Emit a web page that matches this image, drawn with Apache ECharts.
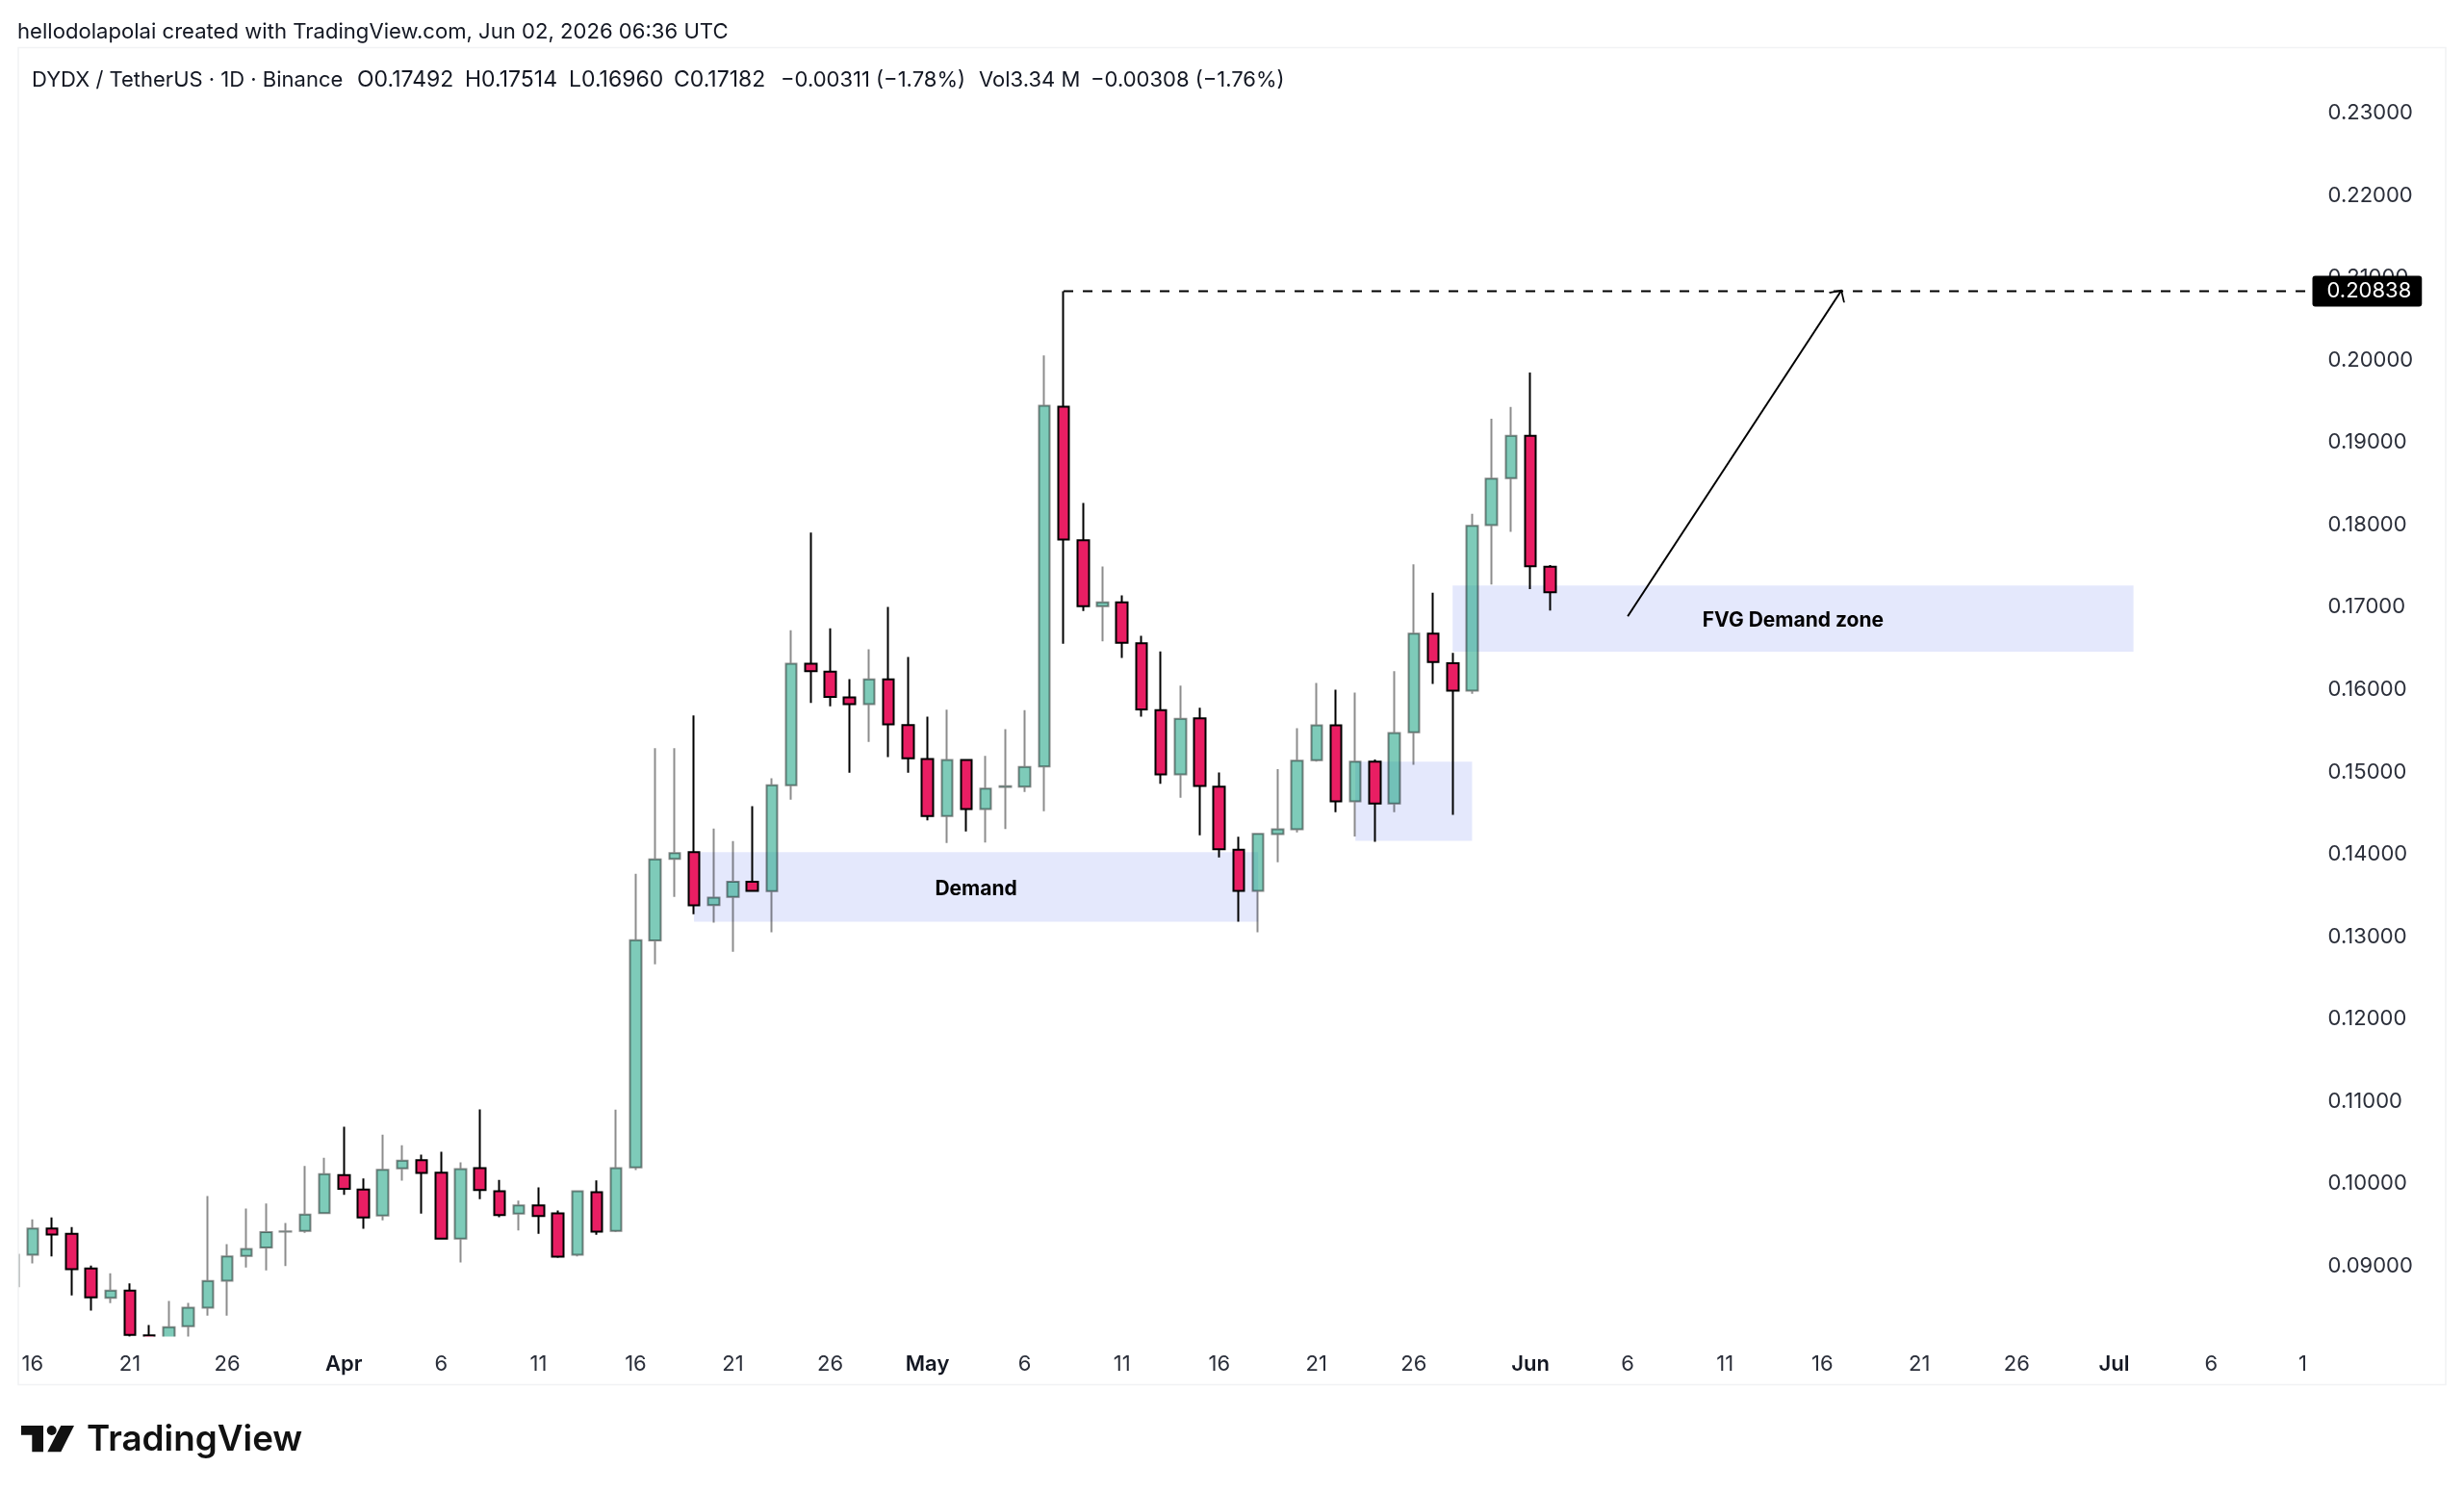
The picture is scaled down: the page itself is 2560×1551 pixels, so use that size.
<!DOCTYPE html>
<html>
<head>
<meta charset="utf-8">
<title>DYDX / TetherUS</title>
<style>
  html, body { margin: 0; padding: 0; background: #fff; }
  #chart { width: 2560px; height: 1551px; }
</style>
<script src="https://cdn.jsdelivr.net/npm/echarts@6/dist/echarts.min.js"></script>
</head>
<body>
<div id="chart"></div>
<script>
// daily bars, Mar 15 to Jun 2
const opens = [
  0.08756, 0.09138, 0.09457, 0.09391, 0.08970, 0.08616, 0.08701, 0.08160, 0.08086, 0.08269,
  0.08495, 0.08822, 0.09122, 0.09224, 0.09418, 0.09426, 0.09644, 0.10104, 0.09929, 0.09613,
  0.10186, 0.10287, 0.10135, 0.09333, 0.10190, 0.09909, 0.09637, 0.09738, 0.09640, 0.09138,
  0.09898, 0.09426, 0.10198, 0.12953, 0.13946, 0.14028, 0.13385, 0.13482, 0.13666, 0.13552,
  0.14838, 0.16315, 0.16217, 0.15906, 0.15824, 0.16124, 0.15571, 0.15158, 0.14464, 0.15146,
  0.14550, 0.14819, 0.14823, 0.15068, 0.19435, 0.17815, 0.17012, 0.17059, 0.16564, 0.15750,
  0.14971, 0.15652, 0.14823, 0.14055, 0.13556, 0.14246, 0.14304, 0.15142, 0.15566, 0.14643,
  0.15126, 0.14616, 0.15481, 0.16681, 0.16322, 0.15987, 0.17998, 0.18567, 0.19081, 0.17492
];
const closes = [
  0.09138, 0.09457, 0.09383, 0.08962, 0.08620, 0.08701, 0.08164, 0.08086, 0.08257, 0.08495,
  0.08818, 0.09118, 0.09208, 0.09411, 0.09422, 0.09625, 0.10116, 0.09937, 0.09590, 0.10170,
  0.10279, 0.10131, 0.09333, 0.10178, 0.09925, 0.09621, 0.09738, 0.09609, 0.09114, 0.09909,
  0.09418, 0.10190, 0.12957, 0.13938, 0.14016, 0.13381, 0.13475, 0.13666, 0.13557, 0.14838,
  0.16315, 0.16225, 0.15913, 0.15824, 0.16124, 0.15578, 0.15165, 0.14464, 0.15146, 0.14550,
  0.14799, 0.14826, 0.15060, 0.19447, 0.17823, 0.17012, 0.17059, 0.16568, 0.15761, 0.14971,
  0.15645, 0.14830, 0.14063, 0.13556, 0.14249, 0.14304, 0.15138, 0.15566, 0.14643, 0.15126,
  0.14616, 0.15473, 0.16681, 0.16334, 0.15987, 0.17990, 0.18563, 0.19081, 0.17499, 0.17182
];
const lows = [
  0.08700, 0.09033, 0.09118, 0.08643, 0.08460, 0.08550, 0.08140, 0.08047, 0.08047, 0.08120,
  0.08398, 0.08398, 0.08982, 0.08947, 0.09001, 0.09403, 0.09644, 0.09866, 0.09453, 0.09555,
  0.10038, 0.09637, 0.09329, 0.09044, 0.09812, 0.09594, 0.09434, 0.09391, 0.09099, 0.09118,
  0.09379, 0.09411, 0.10167, 0.12664, 0.13482, 0.13272, 0.13171, 0.12816, 0.13549, 0.13054,
  0.14663, 0.15839, 0.15797, 0.14990, 0.15364, 0.15181, 0.14990, 0.14413, 0.14137, 0.14277,
  0.14145, 0.14308, 0.14756, 0.14523, 0.16556, 0.16954, 0.16587, 0.16385, 0.15672, 0.14858,
  0.14686, 0.14230, 0.13961, 0.13182, 0.13053, 0.13903, 0.14265, 0.15126, 0.14511, 0.14218,
  0.14152, 0.14511, 0.15087, 0.16069, 0.14479, 0.15950, 0.17277, 0.17916, 0.17222, 0.16960
];
const highs = [
  0.09200, 0.09566, 0.09590, 0.09473, 0.09005, 0.08912, 0.08791, 0.08285, 0.08577, 0.08553,
  0.09851, 0.09266, 0.09699, 0.09761, 0.09524, 0.10217, 0.10314, 0.10692, 0.10065, 0.10595,
  0.10466, 0.10353, 0.10388, 0.10260, 0.10903, 0.10046, 0.09796, 0.09956, 0.09675, 0.09909,
  0.10042, 0.10899, 0.13763, 0.15290, 0.15290, 0.15687, 0.14312, 0.14160, 0.14585, 0.14924,
  0.16720, 0.17908, 0.16743, 0.16128, 0.16490, 0.17004, 0.16397, 0.15672, 0.15758, 0.15150,
  0.15197, 0.15520, 0.15750, 0.20059, 0.20838, 0.18267, 0.17495, 0.17145, 0.16654, 0.16463,
  0.16050, 0.15781, 0.14994, 0.14215, 0.14255, 0.15036, 0.15531, 0.16081, 0.15999, 0.15964,
  0.15153, 0.16225, 0.17522, 0.17177, 0.16447, 0.18134, 0.19291, 0.19432, 0.19852, 0.17514
];

// time scale runs on past the last bar, to Jul 11
const monthRuns = [['Mar', 15, 31], ['Apr', 1, 30], ['May', 1, 31], ['Jun', 1, 30], ['Jul', 1, 11]];
const categories = [];
monthRuns.forEach(function (run) {
  for (let d = run[1]; d <= run[2]; d++) categories.push(run[0] + ' ' + d);
});

const timeLabels = {
  'Mar 16': '16', 'Mar 21': '21', 'Mar 26': '26', 'Apr 1': 'Apr', 'Apr 6': '6', 'Apr 11': '11',
  'Apr 16': '16', 'Apr 21': '21', 'Apr 26': '26', 'May 1': 'May', 'May 6': '6', 'May 11': '11',
  'May 16': '16', 'May 21': '21', 'May 26': '26', 'Jun 1': 'Jun', 'Jun 6': '6', 'Jun 11': '11',
  'Jun 16': '16', 'Jun 21': '21', 'Jun 26': '26', 'Jul 1': 'Jul', 'Jul 6': '6', 'Jul 11': '1'
};
const priceTicks = [0.09, 0.10, 0.11, 0.12, 0.13, 0.14, 0.15, 0.16, 0.17, 0.18, 0.19, 0.20, 0.21, 0.22, 0.23];

// drawings on the chart
const targetLevel = 0.20838;
const targetLine = ['May 8', 'Jul 11'];
const arrowFrom = ['Jun 6', 0.16891];
const arrowTo = ['Jun 17', 0.20853];
const zones = [
  { name: 'Demand', from: 'Apr 19', to: 'May 18', top: 0.14028, bottom: 0.13183 },
  { name: '', from: 'May 23', to: 'May 29', top: 0.15126, bottom: 0.14164 },
  { name: 'FVG Demand zone', from: 'May 28', to: 'Jul 2', top: 0.17265, bottom: 0.16462 }
];

const headerText = 'hellodolapolai created with TradingView.com, Jun 02, 2026 06:36 UTC';
const legendParts = [
  'DYDX / TetherUS · 1D · Binance', 'O0.17492', 'H0.17514', 'L0.16960', 'C0.17182',
  '−0.00311 (−1.78%)', 'Vol3.34 M', '−0.00308 (−1.76%)'
];

const FONT = 'Inter, "Noto Sans", sans-serif';
const INK = '#131722';

const bars = opens.map(function (o, i) {
  return [o, closes[i], lows[i], highs[i]];
});

// legend pieces sit at fixed spots, the OHLC values run a little wider
const legendX = [33, 371, 483, 591, 700, 811, 1017, 1133];
const legendGraphics = legendParts.map(function (text, i) {
  const size = i >= 1 && i <= 4 ? 23 : 22;
  return {
    type: 'text', z: 101, x: legendX[i], y: 83,
    style: { text: text, font: '400 ' + size + 'px ' + FONT, fill: INK, verticalAlign: 'middle' }
  };
});

const chart = echarts.init(document.getElementById('chart'), null, { renderer: 'canvas' });

chart.setOption({
  animation: false,
  backgroundColor: '#ffffff',
  grid: { left: 3.6, top: 50, width: 2405, height: 1338 },
  xAxis: {
    type: 'category',
    data: categories,
    boundaryGap: true,
    axisLine: { show: false },
    axisTick: { show: false },
    splitLine: { show: false },
    axisLabel: {
      margin: 18,
      fontFamily: FONT,
      fontSize: 22,
      color: '#2a2e39',
      interval: function (index, value) {
        return timeLabels[value] !== undefined;
      },
      formatter: function (value) {
        const text = timeLabels[value];
        if (value === 'Jul 11') return '{cut|' + text + '}'; // clipped by the price scale in the original
        return /[a-z]/.test(text) ? '{month|' + text + '}' : text;
      },
      rich: {
        month: { fontFamily: FONT, fontSize: 22, fontWeight: 600, color: INK },
        cut: { fontFamily: FONT, fontSize: 22, color: '#2a2e39', padding: [0, 12, 0, 0] }
      }
    }
  },
  yAxis: {
    type: 'value',
    position: 'right',
    min: 0.0815,
    max: 0.2379,
    axisLine: { show: false },
    axisTick: { show: false },
    splitLine: { show: false },
    axisLabel: {
      margin: 10,
      padding: [2, 0, 0, 0],
      fontFamily: FONT,
      fontSize: 22,
      color: '#2a2e39',
      customValues: priceTicks,
      formatter: function (v) { return v.toFixed(5); }
    }
  },
  series: [
    {
      type: 'candlestick',
      data: bars,
      barWidth: 12,
      itemStyle: {
        // up bars are see-through, the zones show behind them
        color: 'rgba(20,160,128,0.55)',
        color0: '#e91e63',
        borderColor: 'rgba(0,0,0,0.45)',
        borderColor0: '#000000',
        borderColorDoji: 'rgba(0,0,0,0.45)',
        borderWidth: 2
      },
      markArea: {
        silent: true,
        itemStyle: { color: 'rgba(50,80,230,0.135)' },
        label: {
          show: true,
          position: 'inside',
          offset: [0, 2],
          fontFamily: FONT,
          fontSize: 21,
          fontWeight: 700,
          color: '#000000'
        },
        data: zones.map(function (z) {
          return [
            { name: z.name, xAxis: z.from, yAxis: z.top },
            { xAxis: z.to, yAxis: z.bottom }
          ];
        })
      },
      markLine: {
        silent: true,
        animation: false,
        precision: 5,
        symbol: ['none', 'path://M10 0L10.01 0L10 0.01ZM0 20L10 10L20 20L18.5 21L10 12.4L1.5 21Z'],
        symbolSize: 20,
        label: { show: false },
        lineStyle: { color: '#000000', type: 'solid', width: 2 },
        itemStyle: { color: '#000000' },
        data: [[{ coord: arrowFrom }, { coord: arrowTo }]]
      }
    },
    {
      type: 'line',
      data: targetLine.map(function (d) { return [d, targetLevel]; }),
      showSymbol: false,
      silent: true,
      lineStyle: { color: '#000000', width: 2, type: [10, 10] },
      endLabel: {
        show: true,
        distance: 4,
        formatter: function () { return targetLevel.toFixed(5); },
        fontFamily: FONT,
        fontSize: 22,
        color: '#ffffff',
        backgroundColor: '#000000',
        borderRadius: 3,
        padding: [5, 11, 5, 15]
      }
    }
  ],
  graphic: [
    // candlesticks do not clip to the grid, so mask what falls past its left and bottom edges
    { type: 'rect', z: 100, silent: true, shape: { x: 0, y: 48, width: 19, height: 1345 }, style: { fill: '#ffffff' } },
    { type: 'rect', z: 100, silent: true, shape: { x: 19, y: 1388.5, width: 2380, height: 14 }, style: { fill: '#ffffff' } },
    // chart frame
    { type: 'rect', z: 101, silent: true, shape: { x: 19, y: 49.5, width: 2522, height: 1389 }, style: { fill: 'none', stroke: '#f1f2f4', lineWidth: 1.5 } },
    { type: 'text', z: 101, x: 18, y: 33, style: { text: headerText, font: '400 22.1px ' + FONT, fill: INK, verticalAlign: 'middle' } }
  ].concat(legendGraphics, [
    // TradingView mark
    { type: 'polygon', z: 101, shape: { points: [[22, 1481], [45, 1481], [45, 1508.3], [33.3, 1508.3], [33.3, 1490.7], [22, 1490.7]] }, style: { fill: '#111111' } },
    { type: 'circle', z: 101, shape: { cx: 53.7, cy: 1486, r: 5 }, style: { fill: '#111111' } },
    { type: 'polygon', z: 101, shape: { points: [[63.3, 1481], [77, 1481], [63.3, 1508.3], [49.3, 1508.3]] }, style: { fill: '#111111' } },
    { type: 'text', z: 101, x: 90, y: 1496, style: { text: 'TradingView', font: '600 36.8px ' + FONT, fill: '#111111', verticalAlign: 'middle' } }
  ])
});
</script>
</body>
</html>
